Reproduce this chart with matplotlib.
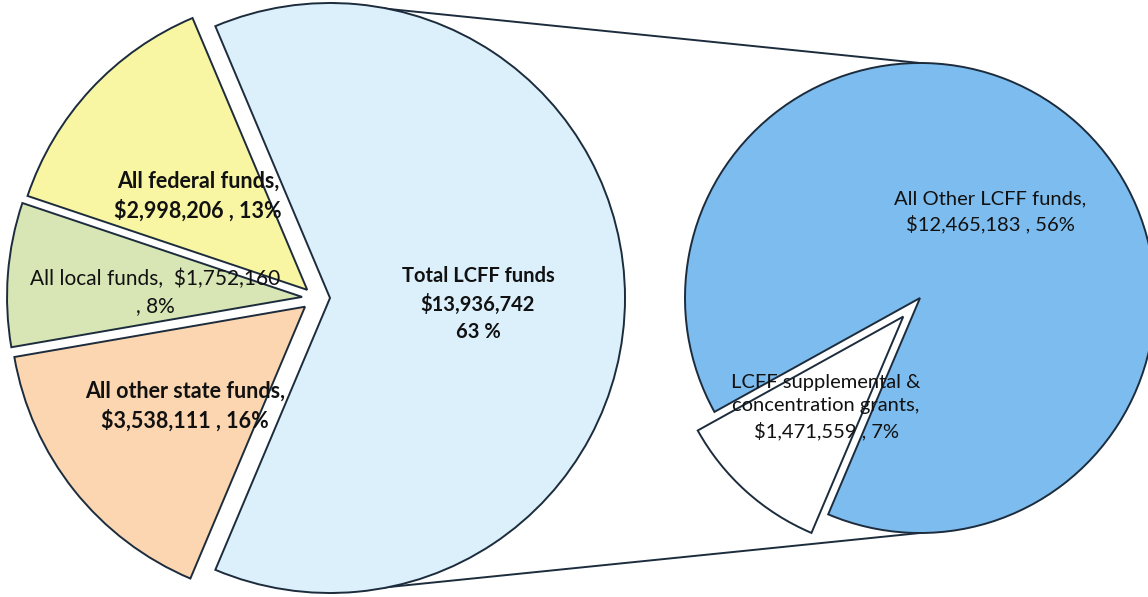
import numpy as np
import matplotlib.pyplot as plt

# main pie: LCFF first, then the other sources counterclockwise
main_names = ['Total LCFF funds', 'All federal funds', 'All local funds', 'All other state funds']
main_values = [13936742, 2998206, 1752160, 3538111]
main_colors = ['#dbf0fb', '#f8f5a3', '#d8e6b5', '#fbd6b1']

# breakdown of the LCFF slice
sub_names = ['All Other LCFF funds', 'LCFF supplemental &\nconcentration grants']
sub_values = [12465183, 1471559]
sub_colors = ['#7dbcee', '#ffffff']

edge = '#1c2c3c'
plt.rcParams['font.family'] = ['Lato', 'DejaVu Sans']

fig = plt.figure(figsize=(11.48, 5.97), dpi=100)
ax = fig.add_axes([0, 0, 1, 1])

total = sum(main_values)
pct = [v / total * 100 for v in main_values]
lcff_angle = main_values[0] / total * 360

# explode is in data units here (pixels)
c1 = (316, 299)
r1 = 295
explode1 = [14, 12, 14, 14]
w1, _ = ax.pie(main_values, colors=main_colors, startangle=-lcff_angle / 2,
               radius=r1, center=c1, explode=explode1, frame=False,
               wedgeprops=dict(edgecolor=edge, linewidth=1.4))

c2 = (920, 299)
r2 = 235
sub_angle = sub_values[1] / sum(sub_values) * 360
w2, _ = ax.pie(sub_values, colors=sub_colors, startangle=228 + sub_angle / 2,
               radius=r2, center=c2, explode=[0, 25], frame=False,
               wedgeprops=dict(edgecolor=edge, linewidth=1.4))

# connector lines from the top/bottom of the LCFF slice to the second pie
lx = c1[0] + explode1[0]
ax.plot([lx, c2[0]], [c1[1] + r1, c2[1] + r2], color=edge, lw=1.4, zorder=0)
ax.plot([lx, c2[0]], [c1[1] - r1, c2[1] - r2], color=edge, lw=1.4, zorder=0)

def money(v):
    return '${:,}'.format(v)

kw = dict(ha='center', va='center', linespacing=1.45, color='#111111')
ax.text(198, 401, f'{main_names[1]},\n{money(main_values[1])} , {pct[1]:.0f}%',
        fontweight='bold', fontsize=15.5, **kw)
ax.text(155, 305, f'{main_names[2]},  {money(main_values[2])}\n, {pct[2]:.0f}%',
        fontsize=15, **kw)
ax.text(185, 191, f'{main_names[3]},\n{money(main_values[3])} , {pct[3]:.0f}%',
        fontweight='bold', fontsize=15.5, **kw)
ax.text(478, 293, f'{main_names[0]}\n{money(main_values[0])}\n{pct[0]:.0f} %',
        fontweight='bold', fontsize=14.5, **kw)

sub_pct = [v / total * 100 for v in sub_values]
ax.text(990, 385, f'{sub_names[0]},\n{money(sub_values[0])} , {sub_pct[0]:.0f}%',
        fontsize=14.5, **kw)
ax.text(826, 190, f'{sub_names[1]},\n{money(sub_values[1])} , {sub_pct[1]:.0f}%',
        fontsize=14.5, **kw)

ax.set_xlim(0, 1148)
ax.set_ylim(0, 597)
ax.set_aspect('equal')
ax.axis('off')

fig.savefig('out.png', dpi=100, facecolor='white')
